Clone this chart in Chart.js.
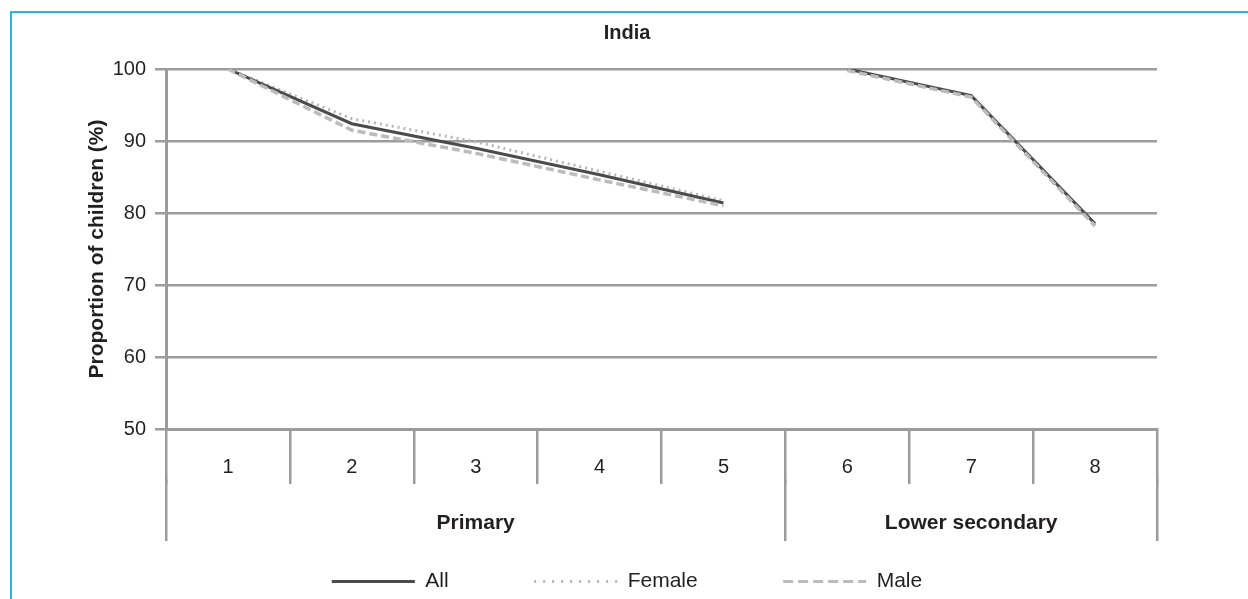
<!DOCTYPE html>
<html><head><meta charset="utf-8">
<script src="https://cdn.jsdelivr.net/npm/chart.js@4/dist/chart.umd.min.js"></script>
<style>
html,body{margin:0;padding:0;background:#fff;overflow:hidden;width:1248px;height:599px;}
#frame{position:absolute;left:10px;top:11px;width:1300px;height:700px;border-top:2px solid #2bb1e6;border-left:2px solid #2bb1e6;}
#wrap{position:absolute;left:0;top:0;width:1248px;height:599px;}
</style></head><body>
<div id="frame"></div>
<div id="wrap"><canvas id="c" width="1248" height="599"></canvas></div>
<script>
// ---- data ----
const categories = ['1', '2', '3', '4', '5', '6', '7', '8'];
const groupNames = ['Primary', 'Lower secondary'];
const groupBounds = [-0.5, 4.5, 7.5];      // category-index boundaries of the groups
const breakAfterIndex = 4;                  // no line between grade 5 and grade 6
const allValues    = [100, 92.4, 89.0, 85.3, 81.4, 100, 96.3, 78.5];
const femaleValues = [100, 93.1, 89.9, 85.8, 81.7, 100, 96.3, 78.5];
const maleValues   = [100, 91.5, 88.3, 84.6, 81.0, 99.8, 96.1, 78.2];
const yTicks = [50, 60, 70, 80, 90, 100];
const seriesNames = ['All', 'Female', 'Male'];

// ---- styles ----
const FONT = "'Liberation Sans', Arial, Helvetica, sans-serif";
const GRID = '#9b9b9d';
const TEXT = '#231f20';
const legendDash = [[], [2, 7], [10, 5]];

const groupCenters = groupNames.map((g, i) => (groupBounds[i] + groupBounds[i + 1]) / 2);
const groupTickValues = groupBounds.concat(groupCenters).sort((a, b) => a - b);
const isBound = v => groupBounds.indexOf(v) !== -1;
const groupLabel = v => { const i = groupCenters.indexOf(v); return i === -1 ? '' : groupNames[i]; };
const gapSegment = c => (c.p0DataIndex === breakAfterIndex ? 'rgba(0,0,0,0)' : undefined);

new Chart(document.getElementById('c'), {
  type: 'line',
  data: {
    labels: categories,
    datasets: [
      { label: seriesNames[0], data: allValues, borderColor: '#4b4b4d', borderWidth: 3, order: 1,
        segment: { borderColor: gapSegment } },
      { label: seriesNames[1], data: femaleValues, borderColor: '#b7b7b9', borderWidth: 3, borderDash: [2, 4], order: 2,
        segment: { borderColor: gapSegment } },
      { label: seriesNames[2], data: maleValues, borderColor: '#bcbcbe', borderWidth: 3.5, borderDash: [8, 4], order: 0,
        segment: { borderColor: gapSegment } }
    ]
  },
  options: {
    responsive: false,
    animation: false,
    events: [],
    layout: { padding: { top: 12, left: 97, right: 91, bottom: -3 } },
    elements: { point: { radius: 0 }, line: { tension: 0, borderJoinStyle: 'miter', fill: false } },
    scales: {
      x: {
        type: 'category', position: 'bottom', offset: true, weight: 0,
        grid: { offset: true, drawOnChartArea: false, drawTicks: true, tickLength: 55, color: GRID, lineWidth: 2.5 },
        border: { display: true, color: GRID, width: 3 },
        ticks: { font: { family: FONT, size: 20 }, color: TEXT, padding: -28.5, maxRotation: 0, autoSkip: false },
        afterFit: s => { s.height = 49.5; }
      },
      x2: {
        type: 'linear', position: 'bottom', weight: 1,
        min: groupBounds[0], max: groupBounds[groupBounds.length - 1],
        afterBuildTicks: s => { s.ticks = groupTickValues.map(v => ({ value: v })); },
        ticks: { callback: v => groupLabel(v), font: { family: FONT, size: 21, weight: 'bold' }, color: TEXT,
                 padding: -30, autoSkip: false, maxRotation: 0 },
        grid: { drawOnChartArea: false, drawTicks: true, tickLength: 62.5, lineWidth: 2.5,
                color: c => (c.tick && isBound(c.tick.value) ? GRID : 'rgba(0,0,0,0)'),
                tickColor: c => (c.tick && isBound(c.tick.value) ? GRID : 'rgba(0,0,0,0)') },
        border: { display: false },
        afterFit: s => {
          s.height = 7;
          s._computeLabelArea = () => undefined;   // let the group labels draw below the thin axis box
        }
      },
      y: {
        min: 50, max: 100,
        afterBuildTicks: s => { s.ticks = yTicks.map(v => ({ value: v })); },
        grid: { color: GRID, lineWidth: 2.5, tickLength: 11 },
        border: { color: GRID, width: 3 },
        ticks: { font: { family: FONT, size: 20 }, color: TEXT, padding: 9 },
        title: { display: true, text: 'Proportion of children (%)', font: { family: FONT, size: 21, weight: 'bold' },
                 color: TEXT, padding: { top: -12.6, bottom: 0 } },
        afterFit: s => { s.width = 69; }
      }
    },
    plugins: {
      title: { display: true, text: 'India', font: { family: FONT, size: 20, weight: 'bold' }, color: TEXT,
               padding: { top: 9, bottom: 24 } },
      legend: {
        position: 'bottom',
        labels: {
          usePointStyle: true, pointStyle: 'line', pointStyleWidth: 83, boxHeight: 18, padding: 85.5,
          font: { family: FONT, size: 21 }, color: TEXT,
          sort: (a, b) => a.datasetIndex - b.datasetIndex,
          generateLabels: chart => {
            const items = Chart.defaults.plugins.legend.labels.generateLabels(chart);
            items.forEach(it => { it.lineDash = legendDash[it.datasetIndex]; it.lineWidth = 3; });
            return items;
          }
        }
      },
      tooltip: { enabled: false }
    }
  }
});
</script>
</body></html>
